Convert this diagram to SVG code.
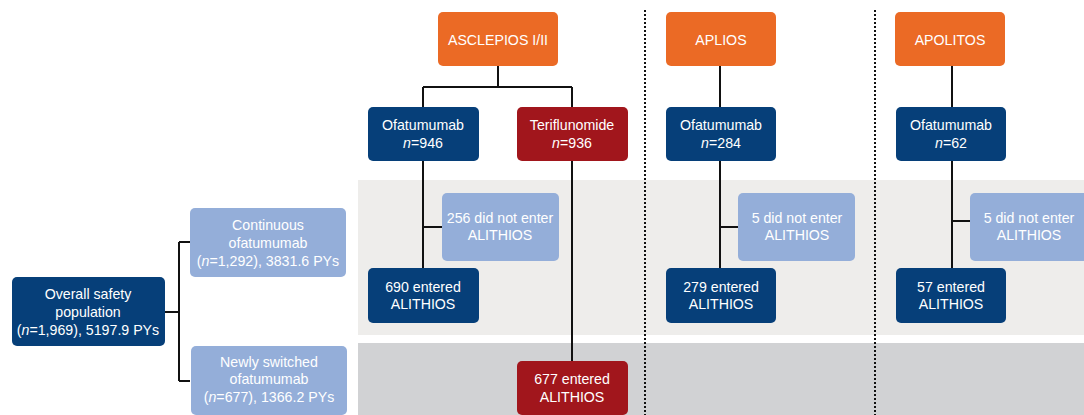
<svg xmlns="http://www.w3.org/2000/svg" width="1084" height="415" viewBox="0 0 1084 415">
<style>
.t{font-family:"Liberation Sans",Arial,sans-serif;font-size:14.2px;fill:#fff;text-anchor:middle}
.or{fill:#EB6A25}
.nv{fill:#063F79}
.rd{fill:#A1161C}
.lb{fill:#94AED9}
.c{fill:none;stroke:#111;stroke-width:2}
.d{stroke:#111;stroke-width:2;stroke-dasharray:2,2}
</style>
<rect x="358" y="180" width="726" height="155" fill="#EEEDEB"/>
<rect x="358" y="343" width="726" height="72" fill="#D1D2D4"/>
<line class="d" x1="645" y1="10" x2="645" y2="415"/>
<line class="d" x1="875" y1="10" x2="875" y2="415"/>
<g id="connectors">
<path class="c" d="M165 312H179M179 242V381M179 242H190M179 381H190"/>
<path class="c" d="M498 66V87M423 87H572M423 87V107M572 87V107"/>
<path class="c" d="M423 161V268M423 227H442"/>
<path class="c" d="M572 161V361"/>
<path class="c" d="M720 66V107M720 161V268M720 227H738"/>
<path class="c" d="M952 66V107M952 161V268M952 221H970"/>
</g>
<g id="overall"><rect class="nv" x="12" y="277" width="153" height="69" rx="5"/><text class="t" x="88" y="299">Overall safety</text><text class="t" x="88" y="317">population</text><text class="t" x="88" y="335">(<tspan font-style="italic">n</tspan>=1,969), 5197.9 PYs</text></g>
<g id="continuous"><rect class="lb" x="190" y="208" width="156" height="69" rx="5"/><text class="t" x="268" y="230">Continuous</text><text class="t" x="268" y="248">ofatumumab</text><text class="t" x="268" y="266">(<tspan font-style="italic">n</tspan>=1,292), 3831.6 PYs</text></g>
<g id="newly"><rect class="lb" x="191" y="346" width="156" height="69" rx="5"/><text class="t" x="269" y="367">Newly switched</text><text class="t" x="269" y="384">ofatumumab</text><text class="t" x="269" y="402">(<tspan font-style="italic">n</tspan>=677), 1366.2 PYs</text></g>
<g id="asclepios"><rect class="or" x="438" y="12" width="120" height="54" rx="5"/><text class="t" x="498" y="45">ASCLEPIOS I/II</text></g>
<g id="ofa946"><rect class="nv" x="368" y="107" width="111" height="54" rx="5"/><text class="t" x="423" y="130">Ofatumumab</text><text class="t" x="423" y="148"><tspan font-style="italic">n</tspan>=946</text></g>
<g id="teri936"><rect class="rd" x="517" y="107" width="111" height="54" rx="5"/><text class="t" x="572" y="130">Teriflunomide</text><text class="t" x="572" y="148"><tspan font-style="italic">n</tspan>=936</text></g>
<g id="dn256"><rect class="lb" x="442" y="193" width="117" height="68" rx="5"/><text class="t" x="500" y="223">256 did not enter</text><text class="t" x="500" y="240">ALITHIOS</text></g>
<g id="e690"><rect class="nv" x="368" y="268" width="111" height="55" rx="5"/><text class="t" x="423" y="292">690 entered</text><text class="t" x="423" y="309">ALITHIOS</text></g>
<g id="e677"><rect class="rd" x="517" y="361" width="111" height="54" rx="5"/><text class="t" x="572" y="384">677 entered</text><text class="t" x="572" y="402">ALITHIOS</text></g>
<g id="aplios"><rect class="or" x="666" y="12" width="110" height="54" rx="5"/><text class="t" x="721" y="45">APLIOS</text></g>
<g id="ofa284"><rect class="nv" x="666" y="107" width="110" height="54" rx="5"/><text class="t" x="721" y="130">Ofatumumab</text><text class="t" x="721" y="148"><tspan font-style="italic">n</tspan>=284</text></g>
<g id="dn5a"><rect class="lb" x="738" y="193" width="117" height="68" rx="5"/><text class="t" x="797" y="223">5 did not enter</text><text class="t" x="797" y="240">ALITHIOS</text></g>
<g id="e279"><rect class="nv" x="666" y="268" width="110" height="55" rx="5"/><text class="t" x="721" y="292">279 entered</text><text class="t" x="721" y="309">ALITHIOS</text></g>
<g id="apolitos"><rect class="or" x="895" y="12" width="110" height="54" rx="5"/><text class="t" x="950" y="45">APOLITOS</text></g>
<g id="ofa62"><rect class="nv" x="896" y="107" width="110" height="54" rx="5"/><text class="t" x="951" y="130">Ofatumumab</text><text class="t" x="951" y="148"><tspan font-style="italic">n</tspan>=62</text></g>
<g id="dn5b"><rect class="lb" x="970" y="193" width="120" height="68" rx="5"/><text class="t" x="1029" y="223">5 did not enter</text><text class="t" x="1029" y="240">ALITHIOS</text></g>
<g id="e57"><rect class="nv" x="896" y="268" width="110" height="55" rx="5"/><text class="t" x="951" y="292">57 entered</text><text class="t" x="951" y="309">ALITHIOS</text></g>
</svg>
